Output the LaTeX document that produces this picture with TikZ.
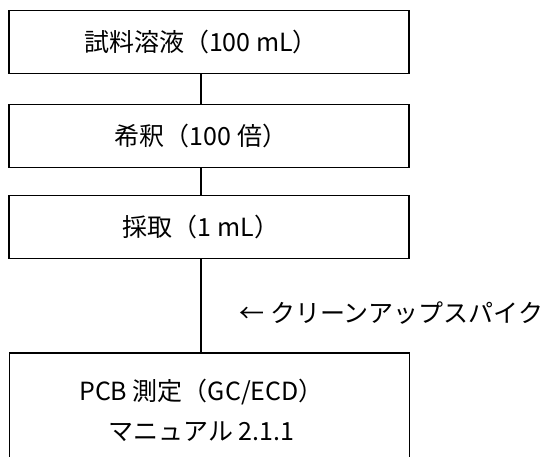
\documentclass[tikz,border=0pt]{standalone}
\usepackage{fontspec}
\setmainfont{Noto Sans CJK JP}
\tikzset{
  stepbox/.style={draw,line width=1.5pt,minimum width=400pt,minimum height=63pt,inner sep=0pt},
  steptext/.style={inner sep=0pt,align=center},
  flowline/.style={line width=1.5pt}
}
\begin{document}
\begin{tikzpicture}[x=1pt,y=-1pt,font=\fontsize{25}{40}\selectfont]
    \useasboundingbox (0,0) rectangle (548,457);
    % boxes
    \node[stepbox] (sample) at (209,42) {};
    \node[stepbox] (dilute) at (209,136) {};
    \node[stepbox] (take) at (209,227) {};
    \node[stepbox,minimum height=116pt,anchor=north] (measure) at (209.5,352) {};
    % texts sit a little left of box centre
    \node[steptext] (sampletext) at ([xshift=-8pt]sample.center) {試料溶液（100 mL）};
    \node[steptext] (dilutetext) at ([xshift=-8pt]dilute.center) {希釈（100 倍）};
    \node[steptext] (taketext) at ([xshift=-8pt]take.center) {採取（1 mL）};
    \node[steptext] (measuretext) at ([xshift=-8pt]measure.center) {PCB 測定（GC/ECD）\\マニュアル 2.1.1};
    \node[anchor=west] (spike) at (236,313) {← クリーンアップスパイク};
    % connectors
    \draw[flowline] ([xshift=-8pt]sample.south) -- ([xshift=-8pt]dilute.north);
    \draw[flowline] ([xshift=-8pt]dilute.south) -- ([xshift=-8pt]take.north);
    \draw[flowline] ([xshift=-8pt]take.south) -- ([xshift=-8.5pt]measure.north);
\end{tikzpicture}
\end{document}
